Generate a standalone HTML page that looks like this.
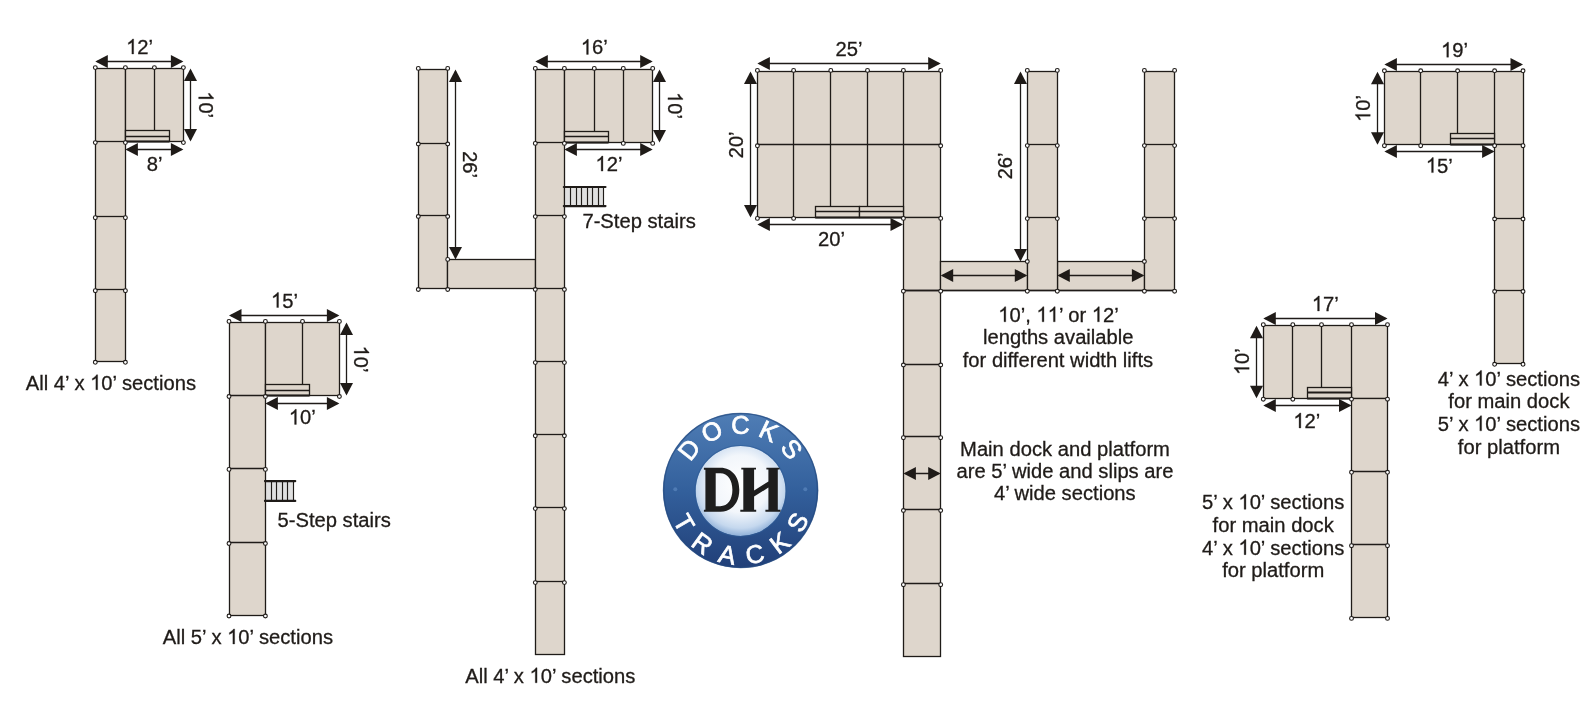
<!DOCTYPE html>
<html><head><meta charset="utf-8"><style>
html,body{margin:0;padding:0;background:#fff;width:1594px;height:710px;overflow:hidden}
svg{display:block;will-change:transform}
text.t{font-family:"Liberation Sans",sans-serif;fill:#1f1b18;stroke:#1f1b18;stroke-width:0.3px}
tspan.one{fill:none;stroke:none}
path.g1{fill:#1f1b18;stroke:#1f1b18;stroke-width:30px}
</style></head><body>
<svg width="1594" height="710" viewBox="0 0 1594 710">

<defs>
<linearGradient id="ring" x1="0" y1="0" x2="0" y2="1">
<stop offset="0%" stop-color="#4f7db5"/>
<stop offset="50%" stop-color="#33609c"/>
<stop offset="100%" stop-color="#213f78"/>
</linearGradient>
<radialGradient id="core" cx="50%" cy="42%" r="58%">
<stop offset="0%" stop-color="#ffffff"/>
<stop offset="55%" stop-color="#f2f6fb"/>
<stop offset="85%" stop-color="#c5d8ee"/>
<stop offset="100%" stop-color="#8fb0d8"/>
</radialGradient>
</defs>
<circle cx="740.6" cy="490.5" r="77.5" fill="url(#ring)"/>
<circle cx="740.6" cy="490.5" r="77" fill="none" stroke="#244a80" stroke-width="1.6" opacity="0.7"/>
<circle cx="740.6" cy="491.0" r="45" fill="url(#core)"/>
<circle cx="740.6" cy="491.0" r="45.5" fill="none" stroke="#2f5b96" stroke-width="1.2" opacity="0.6"/>
<circle cx="675.3" cy="489.3" r="2.0" fill="#4f7bb4"/>
<circle cx="805.3" cy="489.3" r="2.0" fill="#4f7bb4"/>
<text x="0" y="9.13" font-family="Liberation Sans" font-weight="normal" font-size="25.5" fill="#ffffff" stroke="#ffffff" stroke-width="0.7" text-anchor="middle" transform="translate(688.95,449.41) rotate(-51.50)">D</text>
<text x="0" y="9.13" font-family="Liberation Sans" font-weight="normal" font-size="25.5" fill="#ffffff" stroke="#ffffff" stroke-width="0.7" text-anchor="middle" transform="translate(711.80,431.12) rotate(-25.88)">O</text>
<text x="0" y="9.13" font-family="Liberation Sans" font-weight="normal" font-size="25.5" fill="#ffffff" stroke="#ffffff" stroke-width="0.7" text-anchor="middle" transform="translate(740.31,424.50) rotate(-0.25)">C</text>
<text x="0" y="9.13" font-family="Liberation Sans" font-weight="normal" font-size="25.5" fill="#ffffff" stroke="#ffffff" stroke-width="0.7" text-anchor="middle" transform="translate(768.88,430.87) rotate(25.38)">K</text>
<text x="0" y="9.13" font-family="Liberation Sans" font-weight="normal" font-size="25.5" fill="#ffffff" stroke="#ffffff" stroke-width="0.7" text-anchor="middle" transform="translate(791.89,448.96) rotate(51.00)">S</text>
<text x="0" y="9.13" font-family="Liberation Sans" font-weight="normal" font-size="25.5" fill="#ffffff" stroke="#ffffff" stroke-width="0.7" text-anchor="middle" transform="translate(684.31,523.00) rotate(60.00)">T</text>
<text x="0" y="9.13" font-family="Liberation Sans" font-weight="normal" font-size="25.5" fill="#ffffff" stroke="#ffffff" stroke-width="0.7" text-anchor="middle" transform="translate(702.58,543.22) rotate(35.80)">R</text>
<text x="0" y="9.13" font-family="Liberation Sans" font-weight="normal" font-size="25.5" fill="#ffffff" stroke="#ffffff" stroke-width="0.7" text-anchor="middle" transform="translate(727.53,554.17) rotate(11.60)">A</text>
<text x="0" y="9.13" font-family="Liberation Sans" font-weight="normal" font-size="25.5" fill="#ffffff" stroke="#ffffff" stroke-width="0.7" text-anchor="middle" transform="translate(754.78,553.93) rotate(-12.60)">C</text>
<text x="0" y="9.13" font-family="Liberation Sans" font-weight="normal" font-size="25.5" fill="#ffffff" stroke="#ffffff" stroke-width="0.7" text-anchor="middle" transform="translate(779.54,542.55) rotate(-36.80)">K</text>
<text x="0" y="9.13" font-family="Liberation Sans" font-weight="normal" font-size="25.5" fill="#ffffff" stroke="#ffffff" stroke-width="0.7" text-anchor="middle" transform="translate(797.45,522.01) rotate(-61.00)">S</text>
<path fill="#1e1e1e" fill-rule="evenodd" d="M703.9,467.8 H720.5 C732.2,467.8 739.3,477.2 739.3,489.8 C739.3,502.4 732.2,511.7 720.5,511.7 H703.9 V509.8 H705.4 V469.7 H703.9 Z M715.7,473.2 H720.2 C728.0,473.2 732.4,480.2 732.4,489.8 C732.4,499.4 728.0,506.2 720.2,506.2 H715.7 Z"/>
<path fill="#1e1e1e" d="M741.3,467.8 H756 V469.6 H754.1 V490.6 L768.4,481.4 V469.6 H766.4 V467.8 H779.6 V469.6 H777.8 V509.8 H780.5 V511.7 H765.4 V509.8 H768.4 V487.6 L754.1,496.6 V509.8 H756.2 V511.7 H740.3 V509.8 H743.3 V469.6 H741.3 Z"/>

<rect x="95.50" y="68.50" width="30.00" height="293.00" fill="#ded6cc" stroke="#1f1b18" stroke-width="1.3"/>
<rect x="125.50" y="68.50" width="58.00" height="73.00" fill="#ded6cc" stroke="#1f1b18" stroke-width="1.3"/>
<line x1="154.50" y1="68.60" x2="154.50" y2="130.40" stroke="#1f1b18" stroke-width="1.3"/>
<line x1="95.30" y1="141.50" x2="125.40" y2="141.50" stroke="#1f1b18" stroke-width="1.3"/>
<line x1="95.30" y1="216.50" x2="125.40" y2="216.50" stroke="#1f1b18" stroke-width="1.3"/>
<line x1="95.30" y1="289.50" x2="125.40" y2="289.50" stroke="#1f1b18" stroke-width="1.3"/>
<rect x="125.50" y="130.50" width="44.00" height="11.00" fill="#ded6cc" stroke="#1f1b18" stroke-width="1.3"/>
<line x1="125.80" y1="136.50" x2="169.40" y2="136.50" stroke="#1f1b18" stroke-width="1.3"/>
<line x1="125.80" y1="141.50" x2="169.40" y2="141.50" stroke="#1f1b18" stroke-width="1.8"/>
<line x1="97.30" y1="61.50" x2="181.40" y2="61.50" stroke="#1f1b18" stroke-width="1.3"/>
<polygon points="95.30,61.50 107.80,55.00 107.80,68.00" fill="#1f1b18"/>
<polygon points="183.40,61.50 170.90,55.00 170.90,68.00" fill="#1f1b18"/>
<line x1="190.50" y1="70.60" x2="190.50" y2="139.60" stroke="#1f1b18" stroke-width="1.3"/>
<polygon points="190.50,68.60 184.00,81.10 197.00,81.10" fill="#1f1b18"/>
<polygon points="190.50,141.60 184.00,129.10 197.00,129.10" fill="#1f1b18"/>
<line x1="127.40" y1="149.50" x2="181.40" y2="149.50" stroke="#1f1b18" stroke-width="1.3"/>
<polygon points="125.40,149.50 137.90,143.00 137.90,156.00" fill="#1f1b18"/>
<polygon points="183.40,149.50 170.90,143.00 170.90,156.00" fill="#1f1b18"/>
<rect x="229.50" y="322.50" width="36.00" height="293.00" fill="#ded6cc" stroke="#1f1b18" stroke-width="1.3"/>
<rect x="265.50" y="322.50" width="74.00" height="73.00" fill="#ded6cc" stroke="#1f1b18" stroke-width="1.3"/>
<line x1="302.50" y1="322.40" x2="302.50" y2="384.40" stroke="#1f1b18" stroke-width="1.3"/>
<line x1="229.00" y1="395.50" x2="265.40" y2="395.50" stroke="#1f1b18" stroke-width="1.3"/>
<line x1="229.00" y1="468.50" x2="265.40" y2="468.50" stroke="#1f1b18" stroke-width="1.3"/>
<line x1="229.00" y1="542.50" x2="265.40" y2="542.50" stroke="#1f1b18" stroke-width="1.3"/>
<rect x="265.50" y="384.50" width="44.00" height="11.00" fill="#ded6cc" stroke="#1f1b18" stroke-width="1.3"/>
<line x1="265.40" y1="390.50" x2="309.50" y2="390.50" stroke="#1f1b18" stroke-width="1.3"/>
<line x1="265.40" y1="395.50" x2="309.50" y2="395.50" stroke="#1f1b18" stroke-width="1.8"/>
<line x1="231.00" y1="315.50" x2="337.40" y2="315.50" stroke="#1f1b18" stroke-width="1.3"/>
<polygon points="229.00,315.50 241.50,309.00 241.50,322.00" fill="#1f1b18"/>
<polygon points="339.40,315.50 326.90,309.00 326.90,322.00" fill="#1f1b18"/>
<line x1="346.50" y1="324.40" x2="346.50" y2="393.50" stroke="#1f1b18" stroke-width="1.3"/>
<polygon points="346.50,322.40 340.00,334.90 353.00,334.90" fill="#1f1b18"/>
<polygon points="346.50,395.50 340.00,383.00 353.00,383.00" fill="#1f1b18"/>
<line x1="267.40" y1="403.50" x2="337.40" y2="403.50" stroke="#1f1b18" stroke-width="1.3"/>
<polygon points="265.40,403.50 277.90,397.00 277.90,410.00" fill="#1f1b18"/>
<polygon points="339.40,403.50 326.90,397.00 326.90,410.00" fill="#1f1b18"/>
<rect x="265.50" y="481.10" width="28.00" height="19.80" fill="#e0e0e0"/>
<line x1="265.50" y1="481.10" x2="265.50" y2="500.90" stroke="#1f1b18" stroke-width="1.15"/>
<line x1="271.50" y1="481.10" x2="271.50" y2="500.90" stroke="#1f1b18" stroke-width="1.15"/>
<line x1="276.50" y1="481.10" x2="276.50" y2="500.90" stroke="#1f1b18" stroke-width="1.15"/>
<line x1="282.50" y1="481.10" x2="282.50" y2="500.90" stroke="#1f1b18" stroke-width="1.15"/>
<line x1="287.50" y1="481.10" x2="287.50" y2="500.90" stroke="#1f1b18" stroke-width="1.15"/>
<line x1="293.50" y1="481.10" x2="293.50" y2="500.90" stroke="#1f1b18" stroke-width="1.15"/>
<line x1="264.90" y1="481.10" x2="295.30" y2="481.10" stroke="#1f1b18" stroke-width="2.1" stroke-linecap="round"/>
<line x1="264.90" y1="500.90" x2="295.30" y2="500.90" stroke="#1f1b18" stroke-width="2.1" stroke-linecap="round"/>
<rect x="418.50" y="69.50" width="29.00" height="219.00" fill="#ded6cc" stroke="#1f1b18" stroke-width="1.3"/>
<rect x="447.50" y="259.50" width="88.00" height="29.00" fill="#ded6cc" stroke="#1f1b18" stroke-width="1.3"/>
<rect x="535.50" y="69.50" width="29.00" height="585.00" fill="#ded6cc" stroke="#1f1b18" stroke-width="1.3"/>
<rect x="564.50" y="69.50" width="88.00" height="73.00" fill="#ded6cc" stroke="#1f1b18" stroke-width="1.3"/>
<line x1="594.50" y1="69.40" x2="594.50" y2="131.30" stroke="#1f1b18" stroke-width="1.3"/>
<line x1="623.50" y1="69.40" x2="623.50" y2="142.40" stroke="#1f1b18" stroke-width="1.3"/>
<line x1="418.30" y1="143.50" x2="447.70" y2="143.50" stroke="#1f1b18" stroke-width="1.3"/>
<line x1="418.30" y1="215.50" x2="447.70" y2="215.50" stroke="#1f1b18" stroke-width="1.3"/>
<line x1="535.30" y1="142.50" x2="564.40" y2="142.50" stroke="#1f1b18" stroke-width="1.3"/>
<line x1="535.30" y1="215.50" x2="564.40" y2="215.50" stroke="#1f1b18" stroke-width="1.3"/>
<line x1="535.30" y1="288.50" x2="564.40" y2="288.50" stroke="#1f1b18" stroke-width="1.3"/>
<line x1="535.30" y1="361.50" x2="564.40" y2="361.50" stroke="#1f1b18" stroke-width="1.3"/>
<line x1="535.30" y1="434.50" x2="564.40" y2="434.50" stroke="#1f1b18" stroke-width="1.3"/>
<line x1="535.30" y1="507.50" x2="564.40" y2="507.50" stroke="#1f1b18" stroke-width="1.3"/>
<line x1="535.30" y1="581.50" x2="564.40" y2="581.50" stroke="#1f1b18" stroke-width="1.3"/>
<rect x="564.50" y="131.50" width="44.00" height="11.00" fill="#ded6cc" stroke="#1f1b18" stroke-width="1.3"/>
<line x1="564.40" y1="136.50" x2="608.40" y2="136.50" stroke="#1f1b18" stroke-width="1.3"/>
<line x1="564.40" y1="142.50" x2="608.40" y2="142.50" stroke="#1f1b18" stroke-width="1.8"/>
<line x1="537.30" y1="61.50" x2="650.70" y2="61.50" stroke="#1f1b18" stroke-width="1.3"/>
<polygon points="535.30,61.50 547.80,55.00 547.80,68.00" fill="#1f1b18"/>
<polygon points="652.70,61.50 640.20,55.00 640.20,68.00" fill="#1f1b18"/>
<line x1="659.50" y1="71.40" x2="659.50" y2="140.40" stroke="#1f1b18" stroke-width="1.3"/>
<polygon points="659.50,69.40 653.00,81.90 666.00,81.90" fill="#1f1b18"/>
<polygon points="659.50,142.40 653.00,129.90 666.00,129.90" fill="#1f1b18"/>
<line x1="566.40" y1="149.50" x2="650.70" y2="149.50" stroke="#1f1b18" stroke-width="1.3"/>
<polygon points="564.40,149.50 576.90,143.00 576.90,156.00" fill="#1f1b18"/>
<polygon points="652.70,149.50 640.20,143.00 640.20,156.00" fill="#1f1b18"/>
<line x1="455.50" y1="71.40" x2="455.50" y2="257.40" stroke="#1f1b18" stroke-width="1.3"/>
<polygon points="455.50,69.40 449.00,81.90 462.00,81.90" fill="#1f1b18"/>
<polygon points="455.50,259.40 449.00,246.90 462.00,246.90" fill="#1f1b18"/>
<rect x="564.50" y="187.00" width="39.00" height="19.10" fill="#e0e0e0"/>
<line x1="564.50" y1="187.00" x2="564.50" y2="206.10" stroke="#1f1b18" stroke-width="1.15"/>
<line x1="570.50" y1="187.00" x2="570.50" y2="206.10" stroke="#1f1b18" stroke-width="1.15"/>
<line x1="576.50" y1="187.00" x2="576.50" y2="206.10" stroke="#1f1b18" stroke-width="1.15"/>
<line x1="581.50" y1="187.00" x2="581.50" y2="206.10" stroke="#1f1b18" stroke-width="1.15"/>
<line x1="587.50" y1="187.00" x2="587.50" y2="206.10" stroke="#1f1b18" stroke-width="1.15"/>
<line x1="592.50" y1="187.00" x2="592.50" y2="206.10" stroke="#1f1b18" stroke-width="1.15"/>
<line x1="598.50" y1="187.00" x2="598.50" y2="206.10" stroke="#1f1b18" stroke-width="1.15"/>
<line x1="603.50" y1="187.00" x2="603.50" y2="206.10" stroke="#1f1b18" stroke-width="1.15"/>
<line x1="563.80" y1="187.00" x2="605.50" y2="187.00" stroke="#1f1b18" stroke-width="2.1" stroke-linecap="round"/>
<line x1="563.80" y1="206.10" x2="605.50" y2="206.10" stroke="#1f1b18" stroke-width="2.1" stroke-linecap="round"/>
<rect x="757.50" y="71.50" width="183.00" height="146.00" fill="#ded6cc" stroke="#1f1b18" stroke-width="1.3"/>
<rect x="903.50" y="217.50" width="37.00" height="439.00" fill="#ded6cc" stroke="#1f1b18" stroke-width="1.3"/>
<line x1="757.40" y1="144.50" x2="940.70" y2="144.50" stroke="#1f1b18" stroke-width="1.3"/>
<line x1="793.50" y1="71.40" x2="793.50" y2="217.40" stroke="#1f1b18" stroke-width="1.3"/>
<line x1="830.50" y1="71.40" x2="830.50" y2="206.40" stroke="#1f1b18" stroke-width="1.3"/>
<line x1="867.50" y1="71.40" x2="867.50" y2="206.40" stroke="#1f1b18" stroke-width="1.3"/>
<line x1="903.50" y1="71.40" x2="903.50" y2="217.40" stroke="#1f1b18" stroke-width="1.3"/>
<line x1="903.40" y1="290.50" x2="940.70" y2="290.50" stroke="#1f1b18" stroke-width="1.3"/>
<line x1="903.40" y1="364.50" x2="940.70" y2="364.50" stroke="#1f1b18" stroke-width="1.3"/>
<line x1="903.40" y1="436.50" x2="940.70" y2="436.50" stroke="#1f1b18" stroke-width="1.3"/>
<line x1="903.40" y1="509.50" x2="940.70" y2="509.50" stroke="#1f1b18" stroke-width="1.3"/>
<line x1="903.40" y1="583.50" x2="940.70" y2="583.50" stroke="#1f1b18" stroke-width="1.3"/>
<rect x="940.50" y="261.50" width="87.00" height="29.00" fill="#ded6cc" stroke="#1f1b18" stroke-width="1.3"/>
<rect x="1057.50" y="261.50" width="87.00" height="29.00" fill="#ded6cc" stroke="#1f1b18" stroke-width="1.3"/>
<rect x="1027.50" y="71.50" width="30.00" height="219.00" fill="#ded6cc" stroke="#1f1b18" stroke-width="1.3"/>
<rect x="1144.50" y="71.50" width="30.00" height="219.00" fill="#ded6cc" stroke="#1f1b18" stroke-width="1.3"/>
<line x1="1027.30" y1="144.50" x2="1057.30" y2="144.50" stroke="#1f1b18" stroke-width="1.3"/>
<line x1="1027.30" y1="217.50" x2="1057.30" y2="217.50" stroke="#1f1b18" stroke-width="1.3"/>
<line x1="1144.40" y1="144.50" x2="1174.60" y2="144.50" stroke="#1f1b18" stroke-width="1.3"/>
<line x1="1144.40" y1="217.50" x2="1174.60" y2="217.50" stroke="#1f1b18" stroke-width="1.3"/>
<line x1="903.40" y1="290.50" x2="1174.60" y2="290.50" stroke="#1f1b18" stroke-width="1.3"/>
<rect x="815.50" y="206.50" width="44.00" height="11.00" fill="#ded6cc" stroke="#1f1b18" stroke-width="1.3"/>
<rect x="859.50" y="206.50" width="44.00" height="11.00" fill="#ded6cc" stroke="#1f1b18" stroke-width="1.3"/>
<line x1="815.30" y1="211.50" x2="903.40" y2="211.50" stroke="#1f1b18" stroke-width="1.3"/>
<line x1="815.30" y1="217.50" x2="903.40" y2="217.50" stroke="#1f1b18" stroke-width="1.8"/>
<line x1="759.40" y1="63.50" x2="938.70" y2="63.50" stroke="#1f1b18" stroke-width="1.3"/>
<polygon points="757.40,63.50 769.90,57.00 769.90,70.00" fill="#1f1b18"/>
<polygon points="940.70,63.50 928.20,57.00 928.20,70.00" fill="#1f1b18"/>
<line x1="750.50" y1="73.40" x2="750.50" y2="215.40" stroke="#1f1b18" stroke-width="1.3"/>
<polygon points="750.50,71.40 744.00,83.90 757.00,83.90" fill="#1f1b18"/>
<polygon points="750.50,217.40 744.00,204.90 757.00,204.90" fill="#1f1b18"/>
<line x1="759.40" y1="224.50" x2="901.00" y2="224.50" stroke="#1f1b18" stroke-width="1.3"/>
<polygon points="757.40,224.50 769.90,218.00 769.90,231.00" fill="#1f1b18"/>
<polygon points="903.00,224.50 890.50,218.00 890.50,231.00" fill="#1f1b18"/>
<line x1="1020.50" y1="73.40" x2="1020.50" y2="259.50" stroke="#1f1b18" stroke-width="1.3"/>
<polygon points="1020.50,71.40 1014.00,83.90 1027.00,83.90" fill="#1f1b18"/>
<polygon points="1020.50,261.50 1014.00,249.00 1027.00,249.00" fill="#1f1b18"/>
<line x1="942.70" y1="275.50" x2="1025.30" y2="275.50" stroke="#1f1b18" stroke-width="1.3"/>
<polygon points="940.70,275.50 953.20,269.00 953.20,282.00" fill="#1f1b18"/>
<polygon points="1027.30,275.50 1014.80,269.00 1014.80,282.00" fill="#1f1b18"/>
<line x1="1059.30" y1="275.50" x2="1142.40" y2="275.50" stroke="#1f1b18" stroke-width="1.3"/>
<polygon points="1057.30,275.50 1069.80,269.00 1069.80,282.00" fill="#1f1b18"/>
<polygon points="1144.40,275.50 1131.90,269.00 1131.90,282.00" fill="#1f1b18"/>
<line x1="905.40" y1="473.50" x2="938.70" y2="473.50" stroke="#1f1b18" stroke-width="1.3"/>
<polygon points="903.40,473.50 915.90,467.00 915.90,480.00" fill="#1f1b18"/>
<polygon points="940.70,473.50 928.20,467.00 928.20,480.00" fill="#1f1b18"/>
<rect x="1384.50" y="71.50" width="139.00" height="73.00" fill="#ded6cc" stroke="#1f1b18" stroke-width="1.3"/>
<rect x="1494.50" y="144.50" width="29.00" height="219.00" fill="#ded6cc" stroke="#1f1b18" stroke-width="1.3"/>
<line x1="1420.50" y1="71.80" x2="1420.50" y2="144.70" stroke="#1f1b18" stroke-width="1.3"/>
<line x1="1457.50" y1="71.80" x2="1457.50" y2="133.20" stroke="#1f1b18" stroke-width="1.3"/>
<line x1="1494.50" y1="71.80" x2="1494.50" y2="144.70" stroke="#1f1b18" stroke-width="1.3"/>
<line x1="1494.60" y1="218.50" x2="1523.00" y2="218.50" stroke="#1f1b18" stroke-width="1.3"/>
<line x1="1494.60" y1="290.50" x2="1523.00" y2="290.50" stroke="#1f1b18" stroke-width="1.3"/>
<rect x="1450.50" y="133.50" width="44.00" height="11.00" fill="#ded6cc" stroke="#1f1b18" stroke-width="1.3"/>
<line x1="1450.40" y1="138.50" x2="1494.60" y2="138.50" stroke="#1f1b18" stroke-width="1.3"/>
<line x1="1450.40" y1="144.50" x2="1494.60" y2="144.50" stroke="#1f1b18" stroke-width="1.8"/>
<line x1="1386.40" y1="64.50" x2="1521.00" y2="64.50" stroke="#1f1b18" stroke-width="1.3"/>
<polygon points="1384.40,64.50 1396.90,58.00 1396.90,71.00" fill="#1f1b18"/>
<polygon points="1523.00,64.50 1510.50,58.00 1510.50,71.00" fill="#1f1b18"/>
<line x1="1377.50" y1="73.80" x2="1377.50" y2="142.70" stroke="#1f1b18" stroke-width="1.3"/>
<polygon points="1377.50,71.80 1371.00,84.30 1384.00,84.30" fill="#1f1b18"/>
<polygon points="1377.50,144.70 1371.00,132.20 1384.00,132.20" fill="#1f1b18"/>
<line x1="1386.40" y1="151.50" x2="1492.60" y2="151.50" stroke="#1f1b18" stroke-width="1.3"/>
<polygon points="1384.40,151.50 1396.90,145.00 1396.90,158.00" fill="#1f1b18"/>
<polygon points="1494.60,151.50 1482.10,145.00 1482.10,158.00" fill="#1f1b18"/>
<rect x="1263.50" y="325.50" width="124.00" height="73.00" fill="#ded6cc" stroke="#1f1b18" stroke-width="1.3"/>
<rect x="1351.50" y="398.50" width="36.00" height="219.00" fill="#ded6cc" stroke="#1f1b18" stroke-width="1.3"/>
<line x1="1292.50" y1="325.70" x2="1292.50" y2="398.20" stroke="#1f1b18" stroke-width="1.3"/>
<line x1="1321.50" y1="325.70" x2="1321.50" y2="387.50" stroke="#1f1b18" stroke-width="1.3"/>
<line x1="1351.50" y1="325.70" x2="1351.50" y2="398.20" stroke="#1f1b18" stroke-width="1.3"/>
<line x1="1351.50" y1="471.50" x2="1387.50" y2="471.50" stroke="#1f1b18" stroke-width="1.3"/>
<line x1="1351.50" y1="544.50" x2="1387.50" y2="544.50" stroke="#1f1b18" stroke-width="1.3"/>
<rect x="1307.50" y="387.50" width="44.00" height="11.00" fill="#ded6cc" stroke="#1f1b18" stroke-width="1.3"/>
<line x1="1307.20" y1="392.50" x2="1351.50" y2="392.50" stroke="#1f1b18" stroke-width="1.8"/>
<line x1="1307.20" y1="398.50" x2="1351.50" y2="398.50" stroke="#1f1b18" stroke-width="1.8"/>
<line x1="1265.30" y1="318.50" x2="1385.50" y2="318.50" stroke="#1f1b18" stroke-width="1.3"/>
<polygon points="1263.30,318.50 1275.80,312.00 1275.80,325.00" fill="#1f1b18"/>
<polygon points="1387.50,318.50 1375.00,312.00 1375.00,325.00" fill="#1f1b18"/>
<line x1="1256.50" y1="327.70" x2="1256.50" y2="396.20" stroke="#1f1b18" stroke-width="1.3"/>
<polygon points="1256.50,325.70 1250.00,338.20 1263.00,338.20" fill="#1f1b18"/>
<polygon points="1256.50,398.20 1250.00,385.70 1263.00,385.70" fill="#1f1b18"/>
<line x1="1265.30" y1="405.50" x2="1349.50" y2="405.50" stroke="#1f1b18" stroke-width="1.3"/>
<polygon points="1263.30,405.50 1275.80,399.00 1275.80,412.00" fill="#1f1b18"/>
<polygon points="1351.50,405.50 1339.00,399.00 1339.00,412.00" fill="#1f1b18"/>
<circle cx="95.30" cy="67.60" r="1.9" fill="#fff" stroke="#1f1b18" stroke-width="1.1"/>
<circle cx="125.40" cy="67.60" r="1.9" fill="#fff" stroke="#1f1b18" stroke-width="1.1"/>
<circle cx="154.40" cy="67.60" r="1.9" fill="#fff" stroke="#1f1b18" stroke-width="1.1"/>
<circle cx="183.40" cy="67.60" r="1.9" fill="#fff" stroke="#1f1b18" stroke-width="1.1"/>
<circle cx="95.30" cy="142.60" r="1.9" fill="#fff" stroke="#1f1b18" stroke-width="1.1"/>
<circle cx="125.40" cy="142.60" r="1.9" fill="#fff" stroke="#1f1b18" stroke-width="1.1"/>
<circle cx="183.40" cy="142.60" r="1.9" fill="#fff" stroke="#1f1b18" stroke-width="1.1"/>
<circle cx="95.30" cy="217.70" r="1.9" fill="#fff" stroke="#1f1b18" stroke-width="1.1"/>
<circle cx="125.40" cy="217.70" r="1.9" fill="#fff" stroke="#1f1b18" stroke-width="1.1"/>
<circle cx="95.30" cy="290.70" r="1.9" fill="#fff" stroke="#1f1b18" stroke-width="1.1"/>
<circle cx="125.40" cy="290.70" r="1.9" fill="#fff" stroke="#1f1b18" stroke-width="1.1"/>
<circle cx="95.30" cy="362.30" r="1.9" fill="#fff" stroke="#1f1b18" stroke-width="1.1"/>
<circle cx="125.40" cy="362.30" r="1.9" fill="#fff" stroke="#1f1b18" stroke-width="1.1"/>
<circle cx="229.00" cy="321.40" r="1.9" fill="#fff" stroke="#1f1b18" stroke-width="1.1"/>
<circle cx="265.40" cy="321.40" r="1.9" fill="#fff" stroke="#1f1b18" stroke-width="1.1"/>
<circle cx="302.50" cy="321.40" r="1.9" fill="#fff" stroke="#1f1b18" stroke-width="1.1"/>
<circle cx="339.40" cy="321.40" r="1.9" fill="#fff" stroke="#1f1b18" stroke-width="1.1"/>
<circle cx="229.00" cy="396.50" r="1.9" fill="#fff" stroke="#1f1b18" stroke-width="1.1"/>
<circle cx="265.40" cy="396.50" r="1.9" fill="#fff" stroke="#1f1b18" stroke-width="1.1"/>
<circle cx="339.40" cy="396.50" r="1.9" fill="#fff" stroke="#1f1b18" stroke-width="1.1"/>
<circle cx="229.00" cy="469.40" r="1.9" fill="#fff" stroke="#1f1b18" stroke-width="1.1"/>
<circle cx="265.40" cy="469.40" r="1.9" fill="#fff" stroke="#1f1b18" stroke-width="1.1"/>
<circle cx="229.00" cy="543.50" r="1.9" fill="#fff" stroke="#1f1b18" stroke-width="1.1"/>
<circle cx="265.40" cy="543.50" r="1.9" fill="#fff" stroke="#1f1b18" stroke-width="1.1"/>
<circle cx="229.00" cy="616.00" r="1.9" fill="#fff" stroke="#1f1b18" stroke-width="1.1"/>
<circle cx="265.40" cy="616.00" r="1.9" fill="#fff" stroke="#1f1b18" stroke-width="1.1"/>
<circle cx="418.30" cy="68.40" r="1.9" fill="#fff" stroke="#1f1b18" stroke-width="1.1"/>
<circle cx="447.70" cy="68.40" r="1.9" fill="#fff" stroke="#1f1b18" stroke-width="1.1"/>
<circle cx="418.30" cy="144.00" r="1.9" fill="#fff" stroke="#1f1b18" stroke-width="1.1"/>
<circle cx="447.70" cy="144.00" r="1.9" fill="#fff" stroke="#1f1b18" stroke-width="1.1"/>
<circle cx="418.30" cy="216.50" r="1.9" fill="#fff" stroke="#1f1b18" stroke-width="1.1"/>
<circle cx="447.70" cy="216.50" r="1.9" fill="#fff" stroke="#1f1b18" stroke-width="1.1"/>
<circle cx="418.30" cy="289.50" r="1.9" fill="#fff" stroke="#1f1b18" stroke-width="1.1"/>
<circle cx="447.70" cy="289.50" r="1.9" fill="#fff" stroke="#1f1b18" stroke-width="1.1"/>
<circle cx="447.70" cy="259.40" r="1.9" fill="#fff" stroke="#1f1b18" stroke-width="1.1"/>
<circle cx="535.30" cy="68.40" r="1.9" fill="#fff" stroke="#1f1b18" stroke-width="1.1"/>
<circle cx="564.40" cy="68.40" r="1.9" fill="#fff" stroke="#1f1b18" stroke-width="1.1"/>
<circle cx="594.30" cy="68.40" r="1.9" fill="#fff" stroke="#1f1b18" stroke-width="1.1"/>
<circle cx="623.30" cy="68.40" r="1.9" fill="#fff" stroke="#1f1b18" stroke-width="1.1"/>
<circle cx="652.70" cy="68.40" r="1.9" fill="#fff" stroke="#1f1b18" stroke-width="1.1"/>
<circle cx="535.30" cy="143.40" r="1.9" fill="#fff" stroke="#1f1b18" stroke-width="1.1"/>
<circle cx="564.40" cy="143.40" r="1.9" fill="#fff" stroke="#1f1b18" stroke-width="1.1"/>
<circle cx="623.30" cy="143.40" r="1.9" fill="#fff" stroke="#1f1b18" stroke-width="1.1"/>
<circle cx="652.70" cy="143.40" r="1.9" fill="#fff" stroke="#1f1b18" stroke-width="1.1"/>
<circle cx="535.30" cy="216.60" r="1.9" fill="#fff" stroke="#1f1b18" stroke-width="1.1"/>
<circle cx="564.40" cy="216.60" r="1.9" fill="#fff" stroke="#1f1b18" stroke-width="1.1"/>
<circle cx="535.30" cy="289.50" r="1.9" fill="#fff" stroke="#1f1b18" stroke-width="1.1"/>
<circle cx="564.40" cy="289.50" r="1.9" fill="#fff" stroke="#1f1b18" stroke-width="1.1"/>
<circle cx="535.30" cy="362.60" r="1.9" fill="#fff" stroke="#1f1b18" stroke-width="1.1"/>
<circle cx="564.40" cy="362.60" r="1.9" fill="#fff" stroke="#1f1b18" stroke-width="1.1"/>
<circle cx="535.30" cy="435.80" r="1.9" fill="#fff" stroke="#1f1b18" stroke-width="1.1"/>
<circle cx="564.40" cy="435.80" r="1.9" fill="#fff" stroke="#1f1b18" stroke-width="1.1"/>
<circle cx="535.30" cy="508.60" r="1.9" fill="#fff" stroke="#1f1b18" stroke-width="1.1"/>
<circle cx="564.40" cy="508.60" r="1.9" fill="#fff" stroke="#1f1b18" stroke-width="1.1"/>
<circle cx="535.30" cy="582.60" r="1.9" fill="#fff" stroke="#1f1b18" stroke-width="1.1"/>
<circle cx="564.40" cy="582.60" r="1.9" fill="#fff" stroke="#1f1b18" stroke-width="1.1"/>
<circle cx="757.40" cy="70.40" r="1.9" fill="#fff" stroke="#1f1b18" stroke-width="1.1"/>
<circle cx="793.60" cy="70.40" r="1.9" fill="#fff" stroke="#1f1b18" stroke-width="1.1"/>
<circle cx="830.80" cy="70.40" r="1.9" fill="#fff" stroke="#1f1b18" stroke-width="1.1"/>
<circle cx="867.50" cy="70.40" r="1.9" fill="#fff" stroke="#1f1b18" stroke-width="1.1"/>
<circle cx="903.40" cy="70.40" r="1.9" fill="#fff" stroke="#1f1b18" stroke-width="1.1"/>
<circle cx="940.70" cy="70.40" r="1.9" fill="#fff" stroke="#1f1b18" stroke-width="1.1"/>
<circle cx="757.40" cy="218.40" r="1.9" fill="#fff" stroke="#1f1b18" stroke-width="1.1"/>
<circle cx="793.60" cy="218.40" r="1.9" fill="#fff" stroke="#1f1b18" stroke-width="1.1"/>
<circle cx="903.40" cy="218.40" r="1.9" fill="#fff" stroke="#1f1b18" stroke-width="1.1"/>
<circle cx="940.70" cy="218.40" r="1.9" fill="#fff" stroke="#1f1b18" stroke-width="1.1"/>
<circle cx="757.40" cy="145.80" r="1.9" fill="#fff" stroke="#1f1b18" stroke-width="1.1"/>
<circle cx="940.70" cy="145.80" r="1.9" fill="#fff" stroke="#1f1b18" stroke-width="1.1"/>
<circle cx="903.40" cy="291.20" r="1.9" fill="#fff" stroke="#1f1b18" stroke-width="1.1"/>
<circle cx="940.70" cy="291.20" r="1.9" fill="#fff" stroke="#1f1b18" stroke-width="1.1"/>
<circle cx="903.40" cy="365.00" r="1.9" fill="#fff" stroke="#1f1b18" stroke-width="1.1"/>
<circle cx="940.70" cy="365.00" r="1.9" fill="#fff" stroke="#1f1b18" stroke-width="1.1"/>
<circle cx="903.40" cy="437.70" r="1.9" fill="#fff" stroke="#1f1b18" stroke-width="1.1"/>
<circle cx="940.70" cy="437.70" r="1.9" fill="#fff" stroke="#1f1b18" stroke-width="1.1"/>
<circle cx="903.40" cy="510.50" r="1.9" fill="#fff" stroke="#1f1b18" stroke-width="1.1"/>
<circle cx="940.70" cy="510.50" r="1.9" fill="#fff" stroke="#1f1b18" stroke-width="1.1"/>
<circle cx="903.40" cy="584.70" r="1.9" fill="#fff" stroke="#1f1b18" stroke-width="1.1"/>
<circle cx="940.70" cy="584.70" r="1.9" fill="#fff" stroke="#1f1b18" stroke-width="1.1"/>
<circle cx="1027.30" cy="70.40" r="1.9" fill="#fff" stroke="#1f1b18" stroke-width="1.1"/>
<circle cx="1057.30" cy="70.40" r="1.9" fill="#fff" stroke="#1f1b18" stroke-width="1.1"/>
<circle cx="1027.30" cy="145.60" r="1.9" fill="#fff" stroke="#1f1b18" stroke-width="1.1"/>
<circle cx="1057.30" cy="145.60" r="1.9" fill="#fff" stroke="#1f1b18" stroke-width="1.1"/>
<circle cx="1027.30" cy="218.60" r="1.9" fill="#fff" stroke="#1f1b18" stroke-width="1.1"/>
<circle cx="1057.30" cy="218.60" r="1.9" fill="#fff" stroke="#1f1b18" stroke-width="1.1"/>
<circle cx="1027.30" cy="291.20" r="1.9" fill="#fff" stroke="#1f1b18" stroke-width="1.1"/>
<circle cx="1057.30" cy="291.20" r="1.9" fill="#fff" stroke="#1f1b18" stroke-width="1.1"/>
<circle cx="1144.40" cy="70.40" r="1.9" fill="#fff" stroke="#1f1b18" stroke-width="1.1"/>
<circle cx="1174.60" cy="70.40" r="1.9" fill="#fff" stroke="#1f1b18" stroke-width="1.1"/>
<circle cx="1144.40" cy="145.60" r="1.9" fill="#fff" stroke="#1f1b18" stroke-width="1.1"/>
<circle cx="1174.60" cy="145.60" r="1.9" fill="#fff" stroke="#1f1b18" stroke-width="1.1"/>
<circle cx="1144.40" cy="218.60" r="1.9" fill="#fff" stroke="#1f1b18" stroke-width="1.1"/>
<circle cx="1174.60" cy="218.60" r="1.9" fill="#fff" stroke="#1f1b18" stroke-width="1.1"/>
<circle cx="1144.40" cy="291.20" r="1.9" fill="#fff" stroke="#1f1b18" stroke-width="1.1"/>
<circle cx="1174.60" cy="291.20" r="1.9" fill="#fff" stroke="#1f1b18" stroke-width="1.1"/>
<circle cx="1027.30" cy="261.50" r="1.9" fill="#fff" stroke="#1f1b18" stroke-width="1.1"/>
<circle cx="1144.40" cy="261.50" r="1.9" fill="#fff" stroke="#1f1b18" stroke-width="1.1"/>
<circle cx="1384.40" cy="70.80" r="1.9" fill="#fff" stroke="#1f1b18" stroke-width="1.1"/>
<circle cx="1420.70" cy="70.80" r="1.9" fill="#fff" stroke="#1f1b18" stroke-width="1.1"/>
<circle cx="1457.60" cy="70.80" r="1.9" fill="#fff" stroke="#1f1b18" stroke-width="1.1"/>
<circle cx="1494.60" cy="70.80" r="1.9" fill="#fff" stroke="#1f1b18" stroke-width="1.1"/>
<circle cx="1523.00" cy="70.80" r="1.9" fill="#fff" stroke="#1f1b18" stroke-width="1.1"/>
<circle cx="1384.40" cy="145.70" r="1.9" fill="#fff" stroke="#1f1b18" stroke-width="1.1"/>
<circle cx="1420.70" cy="145.70" r="1.9" fill="#fff" stroke="#1f1b18" stroke-width="1.1"/>
<circle cx="1494.60" cy="145.70" r="1.9" fill="#fff" stroke="#1f1b18" stroke-width="1.1"/>
<circle cx="1523.00" cy="145.70" r="1.9" fill="#fff" stroke="#1f1b18" stroke-width="1.1"/>
<circle cx="1494.60" cy="219.00" r="1.9" fill="#fff" stroke="#1f1b18" stroke-width="1.1"/>
<circle cx="1523.00" cy="219.00" r="1.9" fill="#fff" stroke="#1f1b18" stroke-width="1.1"/>
<circle cx="1494.60" cy="291.50" r="1.9" fill="#fff" stroke="#1f1b18" stroke-width="1.1"/>
<circle cx="1523.00" cy="291.50" r="1.9" fill="#fff" stroke="#1f1b18" stroke-width="1.1"/>
<circle cx="1494.60" cy="364.30" r="1.9" fill="#fff" stroke="#1f1b18" stroke-width="1.1"/>
<circle cx="1523.00" cy="364.30" r="1.9" fill="#fff" stroke="#1f1b18" stroke-width="1.1"/>
<circle cx="1263.30" cy="324.70" r="1.9" fill="#fff" stroke="#1f1b18" stroke-width="1.1"/>
<circle cx="1292.80" cy="324.70" r="1.9" fill="#fff" stroke="#1f1b18" stroke-width="1.1"/>
<circle cx="1321.50" cy="324.70" r="1.9" fill="#fff" stroke="#1f1b18" stroke-width="1.1"/>
<circle cx="1351.50" cy="324.70" r="1.9" fill="#fff" stroke="#1f1b18" stroke-width="1.1"/>
<circle cx="1387.50" cy="324.70" r="1.9" fill="#fff" stroke="#1f1b18" stroke-width="1.1"/>
<circle cx="1263.30" cy="399.20" r="1.9" fill="#fff" stroke="#1f1b18" stroke-width="1.1"/>
<circle cx="1292.80" cy="399.20" r="1.9" fill="#fff" stroke="#1f1b18" stroke-width="1.1"/>
<circle cx="1351.50" cy="399.20" r="1.9" fill="#fff" stroke="#1f1b18" stroke-width="1.1"/>
<circle cx="1387.50" cy="399.20" r="1.9" fill="#fff" stroke="#1f1b18" stroke-width="1.1"/>
<circle cx="1351.50" cy="472.30" r="1.9" fill="#fff" stroke="#1f1b18" stroke-width="1.1"/>
<circle cx="1387.50" cy="472.30" r="1.9" fill="#fff" stroke="#1f1b18" stroke-width="1.1"/>
<circle cx="1351.50" cy="545.70" r="1.9" fill="#fff" stroke="#1f1b18" stroke-width="1.1"/>
<circle cx="1387.50" cy="545.70" r="1.9" fill="#fff" stroke="#1f1b18" stroke-width="1.1"/>
<circle cx="1351.50" cy="618.40" r="1.9" fill="#fff" stroke="#1f1b18" stroke-width="1.1"/>
<circle cx="1387.50" cy="618.40" r="1.9" fill="#fff" stroke="#1f1b18" stroke-width="1.1"/>
<text class="t" id="tx0" x="0" y="0" font-size="20.2" text-anchor="middle" transform="translate(139.60,54.00) scale(1,1.0412)"><tspan class="one">1</tspan>2’</text>
<path class="g1" transform="translate(139.60,54.00) scale(1,1.0412) translate(-13.477,0) scale(0.00986,-0.00986)" d="M763,0 L583,0 L583,1147 C540,1106 483,1065 413,1024 C343,983 280,953 224,934 L224,1108 C325,1155 413,1213 488,1280 C563,1347 616,1412 647,1466 L763,1466 Z"/>
<text class="t" id="tx1" x="0" y="0" font-size="20" text-anchor="middle" transform="translate(205.80,104.60) rotate(90) translate(0,7.16) scale(1,1.0412)"><tspan class="one">1</tspan>0’</text>
<path class="g1" transform="translate(205.80,104.60) rotate(90) translate(0,7.16) scale(1,1.0412) translate(-13.347,0) scale(0.00977,-0.00977)" d="M763,0 L583,0 L583,1147 C540,1106 483,1065 413,1024 C343,983 280,953 224,934 L224,1108 C325,1155 413,1213 488,1280 C563,1347 616,1412 647,1466 L763,1466 Z"/>
<text class="t" id="tx2" x="0" y="0" font-size="20.2" text-anchor="middle" transform="translate(154.60,170.60) scale(1,1.0412)">8’</text>
<text class="t" id="tx3" x="0" y="0" font-size="20.2" text-anchor="middle" transform="translate(110.90,389.80) scale(1,1.0412)">All 4’ x <tspan class="one">1</tspan>0’ sections</text>
<path class="g1" transform="translate(110.90,389.80) scale(1,1.0412) translate(-20.771,0) scale(0.00986,-0.00986)" d="M763,0 L583,0 L583,1147 C540,1106 483,1065 413,1024 C343,983 280,953 224,934 L224,1108 C325,1155 413,1213 488,1280 C563,1347 616,1412 647,1466 L763,1466 Z"/>
<text class="t" id="tx4" x="0" y="0" font-size="20.2" text-anchor="middle" transform="translate(284.50,307.50) scale(1,1.0412)"><tspan class="one">1</tspan>5’</text>
<path class="g1" transform="translate(284.50,307.50) scale(1,1.0412) translate(-13.477,0) scale(0.00986,-0.00986)" d="M763,0 L583,0 L583,1147 C540,1106 483,1065 413,1024 C343,983 280,953 224,934 L224,1108 C325,1155 413,1213 488,1280 C563,1347 616,1412 647,1466 L763,1466 Z"/>
<text class="t" id="tx5" x="0" y="0" font-size="20" text-anchor="middle" transform="translate(361.30,359.00) rotate(90) translate(0,7.16) scale(1,1.0412)"><tspan class="one">1</tspan>0’</text>
<path class="g1" transform="translate(361.30,359.00) rotate(90) translate(0,7.16) scale(1,1.0412) translate(-13.347,0) scale(0.00977,-0.00977)" d="M763,0 L583,0 L583,1147 C540,1106 483,1065 413,1024 C343,983 280,953 224,934 L224,1108 C325,1155 413,1213 488,1280 C563,1347 616,1412 647,1466 L763,1466 Z"/>
<text class="t" id="tx6" x="0" y="0" font-size="20.2" text-anchor="middle" transform="translate(302.30,424.40) scale(1,1.0412)"><tspan class="one">1</tspan>0’</text>
<path class="g1" transform="translate(302.30,424.40) scale(1,1.0412) translate(-13.477,0) scale(0.00986,-0.00986)" d="M763,0 L583,0 L583,1147 C540,1106 483,1065 413,1024 C343,983 280,953 224,934 L224,1108 C325,1155 413,1213 488,1280 C563,1347 616,1412 647,1466 L763,1466 Z"/>
<text class="t" id="tx7" x="0" y="0" font-size="20.2" text-anchor="start" transform="translate(277.50,526.90) scale(1,1.0412)">5-Step stairs</text>
<text class="t" id="tx8" x="0" y="0" font-size="20.2" text-anchor="middle" transform="translate(247.90,644.00) scale(1,1.0412)">All 5’ x <tspan class="one">1</tspan>0’ sections</text>
<path class="g1" transform="translate(247.90,644.00) scale(1,1.0412) translate(-20.771,0) scale(0.00986,-0.00986)" d="M763,0 L583,0 L583,1147 C540,1106 483,1065 413,1024 C343,983 280,953 224,934 L224,1108 C325,1155 413,1213 488,1280 C563,1347 616,1412 647,1466 L763,1466 Z"/>
<text class="t" id="tx9" x="0" y="0" font-size="20.2" text-anchor="middle" transform="translate(594.30,54.40) scale(1,1.0412)"><tspan class="one">1</tspan>6’</text>
<path class="g1" transform="translate(594.30,54.40) scale(1,1.0412) translate(-13.477,0) scale(0.00986,-0.00986)" d="M763,0 L583,0 L583,1147 C540,1106 483,1065 413,1024 C343,983 280,953 224,934 L224,1108 C325,1155 413,1213 488,1280 C563,1347 616,1412 647,1466 L763,1466 Z"/>
<text class="t" id="tx10" x="0" y="0" font-size="20" text-anchor="middle" transform="translate(675.10,105.50) rotate(90) translate(0,7.16) scale(1,1.0412)"><tspan class="one">1</tspan>0’</text>
<path class="g1" transform="translate(675.10,105.50) rotate(90) translate(0,7.16) scale(1,1.0412) translate(-13.347,0) scale(0.00977,-0.00977)" d="M763,0 L583,0 L583,1147 C540,1106 483,1065 413,1024 C343,983 280,953 224,934 L224,1108 C325,1155 413,1213 488,1280 C563,1347 616,1412 647,1466 L763,1466 Z"/>
<text class="t" id="tx11" x="0" y="0" font-size="20.2" text-anchor="middle" transform="translate(608.90,171.10) scale(1,1.0412)"><tspan class="one">1</tspan>2’</text>
<path class="g1" transform="translate(608.90,171.10) scale(1,1.0412) translate(-13.477,0) scale(0.00986,-0.00986)" d="M763,0 L583,0 L583,1147 C540,1106 483,1065 413,1024 C343,983 280,953 224,934 L224,1108 C325,1155 413,1213 488,1280 C563,1347 616,1412 647,1466 L763,1466 Z"/>
<text class="t" id="tx12" x="0" y="0" font-size="20" text-anchor="middle" transform="translate(470.20,164.50) rotate(90) translate(0,7.16) scale(1,1.0412)">26’</text>
<text class="t" id="tx13" x="0" y="0" font-size="20.2" text-anchor="start" transform="translate(582.40,227.60) scale(1,1.0412)">7-Step stairs</text>
<text class="t" id="tx14" x="0" y="0" font-size="20.2" text-anchor="middle" transform="translate(550.30,682.80) scale(1,1.0412)">All 4’ x <tspan class="one">1</tspan>0’ sections</text>
<path class="g1" transform="translate(550.30,682.80) scale(1,1.0412) translate(-20.771,0) scale(0.00986,-0.00986)" d="M763,0 L583,0 L583,1147 C540,1106 483,1065 413,1024 C343,983 280,953 224,934 L224,1108 C325,1155 413,1213 488,1280 C563,1347 616,1412 647,1466 L763,1466 Z"/>
<text class="t" id="tx15" x="0" y="0" font-size="20.2" text-anchor="middle" transform="translate(849.00,56.20) scale(1,1.0412)">25’</text>
<text class="t" id="tx16" x="0" y="0" font-size="20" text-anchor="middle" transform="translate(735.60,144.80) rotate(-90) translate(0,7.16) scale(1,1.0412)">20’</text>
<text class="t" id="tx17" x="0" y="0" font-size="20.2" text-anchor="middle" transform="translate(831.50,246.00) scale(1,1.0412)">20’</text>
<text class="t" id="tx18" x="0" y="0" font-size="20" text-anchor="middle" transform="translate(1005.30,166.00) rotate(-90) translate(0,7.16) scale(1,1.0412)">26’</text>
<text class="t" id="tx19" x="0" y="0" font-size="20.2" text-anchor="middle" transform="translate(1058.50,321.80) scale(1,1.0412)"><tspan class="one">1</tspan>0’, <tspan class="one">1</tspan><tspan class="one">1</tspan>’ or <tspan class="one">1</tspan>2’</text>
<path class="g1" transform="translate(1058.50,321.80) scale(1,1.0412) translate(-60.254,0) scale(0.00986,-0.00986)" d="M763,0 L583,0 L583,1147 C540,1106 483,1065 413,1024 C343,983 280,953 224,934 L224,1108 C325,1155 413,1213 488,1280 C563,1347 616,1412 647,1466 L763,1466 Z"/>
<path class="g1" transform="translate(1058.50,321.80) scale(1,1.0412) translate(-22.080,0) scale(0.00986,-0.00986)" d="M763,0 L583,0 L583,1147 C540,1106 483,1065 413,1024 C343,983 280,953 224,934 L224,1108 C325,1155 413,1213 488,1280 C563,1347 616,1412 647,1466 L763,1466 Z"/>
<path class="g1" transform="translate(1058.50,321.80) scale(1,1.0412) translate(-10.845,0) scale(0.00986,-0.00986)" d="M763,0 L583,0 L583,1147 C540,1106 483,1065 413,1024 C343,983 280,953 224,934 L224,1108 C325,1155 413,1213 488,1280 C563,1347 616,1412 647,1466 L763,1466 Z"/>
<path class="g1" transform="translate(1058.50,321.80) scale(1,1.0412) translate(33.299,0) scale(0.00986,-0.00986)" d="M763,0 L583,0 L583,1147 C540,1106 483,1065 413,1024 C343,983 280,953 224,934 L224,1108 C325,1155 413,1213 488,1280 C563,1347 616,1412 647,1466 L763,1466 Z"/>
<text class="t" id="tx20" x="0" y="0" font-size="20.2" text-anchor="middle" transform="translate(1058.30,344.00) scale(1,1.0412)">lengths available</text>
<text class="t" id="tx21" x="0" y="0" font-size="20.2" text-anchor="middle" transform="translate(1057.90,367.00) scale(1,1.0412)">for different width lifts</text>
<text class="t" id="tx22" x="0" y="0" font-size="20.2" text-anchor="middle" transform="translate(1065.00,455.80) scale(1,1.0412)">Main dock and platform</text>
<text class="t" id="tx23" x="0" y="0" font-size="20.2" text-anchor="middle" transform="translate(1065.00,478.30) scale(1,1.0412)">are 5’ wide and slips are</text>
<text class="t" id="tx24" x="0" y="0" font-size="20.2" text-anchor="middle" transform="translate(1064.80,500.40) scale(1,1.0412)">4’ wide sections</text>
<text class="t" id="tx25" x="0" y="0" font-size="20.2" text-anchor="middle" transform="translate(1454.50,57.20) scale(1,1.0412)"><tspan class="one">1</tspan>9’</text>
<path class="g1" transform="translate(1454.50,57.20) scale(1,1.0412) translate(-13.477,0) scale(0.00986,-0.00986)" d="M763,0 L583,0 L583,1147 C540,1106 483,1065 413,1024 C343,983 280,953 224,934 L224,1108 C325,1155 413,1213 488,1280 C563,1347 616,1412 647,1466 L763,1466 Z"/>
<text class="t" id="tx26" x="0" y="0" font-size="20" text-anchor="middle" transform="translate(1363.10,108.50) rotate(-90) translate(0,7.16) scale(1,1.0412)"><tspan class="one">1</tspan>0’</text>
<path class="g1" transform="translate(1363.10,108.50) rotate(-90) translate(0,7.16) scale(1,1.0412) translate(-13.347,0) scale(0.00977,-0.00977)" d="M763,0 L583,0 L583,1147 C540,1106 483,1065 413,1024 C343,983 280,953 224,934 L224,1108 C325,1155 413,1213 488,1280 C563,1347 616,1412 647,1466 L763,1466 Z"/>
<text class="t" id="tx27" x="0" y="0" font-size="20.2" text-anchor="middle" transform="translate(1439.30,172.60) scale(1,1.0412)"><tspan class="one">1</tspan>5’</text>
<path class="g1" transform="translate(1439.30,172.60) scale(1,1.0412) translate(-13.477,0) scale(0.00986,-0.00986)" d="M763,0 L583,0 L583,1147 C540,1106 483,1065 413,1024 C343,983 280,953 224,934 L224,1108 C325,1155 413,1213 488,1280 C563,1347 616,1412 647,1466 L763,1466 Z"/>
<text class="t" id="tx28" x="0" y="0" font-size="20.2" text-anchor="middle" transform="translate(1508.90,385.50) scale(1,1.0412)">4’ x <tspan class="one">1</tspan>0’ sections</text>
<path class="g1" transform="translate(1508.90,385.50) scale(1,1.0412) translate(-34.792,0) scale(0.00986,-0.00986)" d="M763,0 L583,0 L583,1147 C540,1106 483,1065 413,1024 C343,983 280,953 224,934 L224,1108 C325,1155 413,1213 488,1280 C563,1347 616,1412 647,1466 L763,1466 Z"/>
<text class="t" id="tx29" x="0" y="0" font-size="20.2" text-anchor="middle" transform="translate(1508.90,408.17) scale(1,1.0412)">for main dock</text>
<text class="t" id="tx30" x="0" y="0" font-size="20.2" text-anchor="middle" transform="translate(1508.90,430.84) scale(1,1.0412)">5’ x <tspan class="one">1</tspan>0’ sections</text>
<path class="g1" transform="translate(1508.90,430.84) scale(1,1.0412) translate(-34.792,0) scale(0.00986,-0.00986)" d="M763,0 L583,0 L583,1147 C540,1106 483,1065 413,1024 C343,983 280,953 224,934 L224,1108 C325,1155 413,1213 488,1280 C563,1347 616,1412 647,1466 L763,1466 Z"/>
<text class="t" id="tx31" x="0" y="0" font-size="20.2" text-anchor="middle" transform="translate(1508.90,453.51) scale(1,1.0412)">for platform</text>
<text class="t" id="tx32" x="0" y="0" font-size="20.2" text-anchor="middle" transform="translate(1325.30,311.00) scale(1,1.0412)"><tspan class="one">1</tspan>7’</text>
<path class="g1" transform="translate(1325.30,311.00) scale(1,1.0412) translate(-13.477,0) scale(0.00986,-0.00986)" d="M763,0 L583,0 L583,1147 C540,1106 483,1065 413,1024 C343,983 280,953 224,934 L224,1108 C325,1155 413,1213 488,1280 C563,1347 616,1412 647,1466 L763,1466 Z"/>
<text class="t" id="tx33" x="0" y="0" font-size="20" text-anchor="middle" transform="translate(1242.00,361.70) rotate(-90) translate(0,7.16) scale(1,1.0412)"><tspan class="one">1</tspan>0’</text>
<path class="g1" transform="translate(1242.00,361.70) rotate(-90) translate(0,7.16) scale(1,1.0412) translate(-13.347,0) scale(0.00977,-0.00977)" d="M763,0 L583,0 L583,1147 C540,1106 483,1065 413,1024 C343,983 280,953 224,934 L224,1108 C325,1155 413,1213 488,1280 C563,1347 616,1412 647,1466 L763,1466 Z"/>
<text class="t" id="tx34" x="0" y="0" font-size="20.2" text-anchor="middle" transform="translate(1306.80,428.00) scale(1,1.0412)"><tspan class="one">1</tspan>2’</text>
<path class="g1" transform="translate(1306.80,428.00) scale(1,1.0412) translate(-13.477,0) scale(0.00986,-0.00986)" d="M763,0 L583,0 L583,1147 C540,1106 483,1065 413,1024 C343,983 280,953 224,934 L224,1108 C325,1155 413,1213 488,1280 C563,1347 616,1412 647,1466 L763,1466 Z"/>
<text class="t" id="tx35" x="0" y="0" font-size="20.2" text-anchor="middle" transform="translate(1273.20,509.30) scale(1,1.0412)">5’ x <tspan class="one">1</tspan>0’ sections</text>
<path class="g1" transform="translate(1273.20,509.30) scale(1,1.0412) translate(-34.792,0) scale(0.00986,-0.00986)" d="M763,0 L583,0 L583,1147 C540,1106 483,1065 413,1024 C343,983 280,953 224,934 L224,1108 C325,1155 413,1213 488,1280 C563,1347 616,1412 647,1466 L763,1466 Z"/>
<text class="t" id="tx36" x="0" y="0" font-size="20.2" text-anchor="middle" transform="translate(1273.20,531.97) scale(1,1.0412)">for main dock</text>
<text class="t" id="tx37" x="0" y="0" font-size="20.2" text-anchor="middle" transform="translate(1273.20,554.64) scale(1,1.0412)">4’ x <tspan class="one">1</tspan>0’ sections</text>
<path class="g1" transform="translate(1273.20,554.64) scale(1,1.0412) translate(-34.792,0) scale(0.00986,-0.00986)" d="M763,0 L583,0 L583,1147 C540,1106 483,1065 413,1024 C343,983 280,953 224,934 L224,1108 C325,1155 413,1213 488,1280 C563,1347 616,1412 647,1466 L763,1466 Z"/>
<text class="t" id="tx38" x="0" y="0" font-size="20.2" text-anchor="middle" transform="translate(1273.20,577.31) scale(1,1.0412)">for platform</text>
</svg>
</body></html>
